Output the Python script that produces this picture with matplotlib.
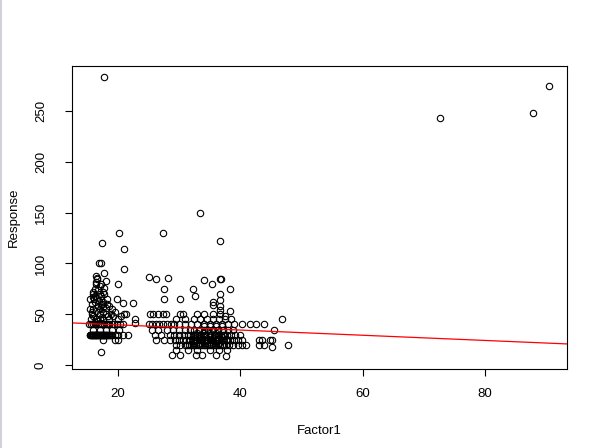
import matplotlib
matplotlib.use("Agg")
import matplotlib.pyplot as plt
from matplotlib.lines import Line2D

plt.rcParams['font.family'] = ['Liberation Sans', 'DejaVu Sans']

# ---- data ----
# cluster around Factor1 15-23
f1_a = [15.4, 15.6, 15.8, 16.0, 16.2, 16.4, 16.6, 16.8, 17.0, 17.2, 17.4, 17.6, 17.8, 18.0, 18.2, 18.5, 18.8, 19.0, 19.5, 20.05, 20.9, 21.7,
        15.5, 15.7, 15.9, 16.1, 16.3, 16.5, 16.7, 16.9, 17.1, 17.3, 17.5, 17.7, 17.9, 18.1, 18.35, 18.65,
        15.3, 15.6, 15.9, 16.2, 16.5, 16.8, 17.1, 17.4, 17.7, 18.0, 18.3, 18.6, 19.0, 19.4, 19.8, 20.3, 20.8, 22.8,
        15.6, 15.8, 16.0, 15.7, 16.1, 15.9, 16.3, 16.5, 16.6, 16.4, 16.9, 17.3, 17.8, 18.0, 17.0, 17.5, 17.2, 17.8, 18.2,
        16.2, 16.7, 17.1, 17.6, 18.0, 18.4, 16.0, 16.5, 17.0, 17.5, 18.5, 18.8, 19.2, 19.0, 18.6, 17.4, 16.9, 16.3, 17.0,
        17.6, 18.1, 15.5, 15.5, 16.0, 16.8, 17.3, 17.8, 18.3, 19.5, 20.0, 20.5, 21.0, 16.5, 16.6,
        15.8, 16.4, 17.0, 17.6, 16.2, 16.8, 17.4, 15.9, 16.6, 17.2,
        16.0, 17.0, 18.0, 19.0, 20.2, 17.5, 19.6, 20.0,
        17.4, 20.2, 21.0, 21.0, 19.95, 19.8, 20.9, 22.4, 21.4, 22.8, 17.3, 17.8]
resp_a = [30, 30, 30, 30, 30, 30, 30, 30, 30, 30, 30, 30, 30, 30, 30, 30, 30, 30, 30, 30, 30, 30,
          30, 30, 30, 30, 30, 30, 30, 30, 30, 30, 30, 30, 30, 30, 30, 30,
          40, 40, 40, 40, 40, 40, 40, 40, 40, 40, 40, 40, 40, 40, 40, 40, 40, 41,
          45, 50, 55, 60, 65, 70, 75, 80, 85, 88, 100, 100, 91, 83, 78, 72, 68, 70, 65,
          62, 58, 55, 52, 50, 48, 48, 45, 45, 44, 45, 50, 48, 55, 58, 60, 63, 68, 70,
          62, 56, 55, 65, 72, 74, 80, 76, 60, 52, 45, 48, 50, 82, 86,
          52, 53, 50, 57, 42, 43, 47, 67, 66, 59,
          35, 35, 35, 35, 35, 25, 25, 25,
          120, 130, 114, 95, 80, 65, 61, 61, 50, 45, 13, 284]

# cluster around Factor1 25-48
f1_b = [29.5, 30.2, 31.0, 31.6, 32.2, 32.8, 33.4, 34.0, 34.6, 35.2, 35.8, 36.4, 37.0, 37.6, 38.2, 38.8, 39.6, 40.3, 40.9, 43.1, 43.9, 47.8,
        26.2, 27.5, 28.5, 29.3, 30.0, 30.6, 31.2, 31.8, 32.4, 33.0, 33.6, 34.2, 34.8, 35.4, 36.0, 36.6, 37.2, 37.8, 38.4, 39.0, 39.6, 40.3, 43.1, 43.5, 44.8, 45.2,
        26.0, 27.0, 28.5, 29.2, 30.0, 30.8, 31.5, 32.2, 32.9, 33.6, 34.3, 35.0, 35.7, 36.4, 37.1, 37.8, 38.5, 39.2, 39.9,
        25.5, 26.6, 28.0, 29.0, 30.0, 31.0, 31.8, 32.5, 33.2, 34.0, 34.8, 35.6, 36.4, 37.2, 38.0, 38.8, 45.5,
        25.1, 25.6, 26.2, 26.8, 27.4, 28.0, 28.6, 29.2, 30.0, 31.0, 32.0, 33.0, 34.0, 35.0, 36.0, 37.0, 38.0, 39.0, 40.3, 41.6, 42.5, 43.9,
        29.5, 31.0, 32.5, 33.5, 34.5, 35.5, 36.5, 37.5, 38.5, 46.8,
        25.3, 25.8, 26.6, 27.4, 27.9, 30.1, 30.6, 33.0, 34.0, 35.5, 36.7,
        29.5, 31.5, 33.0, 35.0, 36.5, 37.8, 45.2,
        28.8, 30.1, 32.8, 33.7, 36.1, 37.7,
        32.5, 33.5, 34.5, 35.5, 36.5, 33.0, 34.0, 35.0, 36.0, 37.0, 33.0, 34.0, 35.0, 36.0, 34.0, 35.0, 36.0, 37.0,
        31.3, 31.9, 32.5, 33.1, 33.7, 34.3, 34.9, 35.5, 36.1, 36.7, 37.3,
        31.6, 32.2, 32.8, 33.4, 34.0, 34.6, 35.2, 35.8, 36.4, 37.0, 37.6,
        31.8, 32.6, 33.4, 34.2, 35.0, 35.8, 36.6, 37.4,
        25.1, 26.3, 28.2, 27.4, 27.5, 27.6, 30.1, 32.2, 32.6, 33.4, 34.1, 35.4, 36.7, 36.9, 38.3, 36.7,
        36.7, 35.5, 35.5, 36.7, 36.7, 36.7, 38.3, 37.5]
resp_b = [20, 20, 20, 20, 20, 20, 20, 20, 20, 20, 20, 20, 20, 20, 20, 20, 20, 20, 20, 20, 20, 20,
          25, 25, 25, 25, 25, 25, 25, 25, 25, 25, 25, 25, 25, 25, 25, 25, 25, 25, 25, 25, 25, 25, 25, 25, 25, 25,
          30, 30, 30, 30, 30, 30, 30, 30, 30, 30, 30, 30, 30, 30, 30, 30, 30, 30, 30,
          35, 35, 35, 35, 35, 35, 35, 35, 35, 35, 35, 35, 35, 35, 35, 35, 35,
          40, 40, 40, 40, 40, 40, 40, 40, 40, 40, 40, 40, 40, 40, 40, 40, 40, 40, 40, 40, 40, 40,
          45, 45, 45, 45, 45, 45, 45, 45, 45, 45,
          50, 50, 50, 50, 50, 50, 50, 50, 50, 50, 50,
          15, 15, 15, 15, 15, 15, 18,
          10, 10, 10, 10, 10, 9,
          22, 22, 22, 22, 22, 28, 28, 28, 28, 28, 32, 32, 32, 32, 38, 38, 38, 38,
          20, 20, 20, 20, 20, 20, 20, 20, 20, 20, 20,
          25, 25, 25, 25, 25, 25, 25, 25, 25, 25, 25,
          30, 30, 30, 30, 30, 30, 30, 30,
          87, 85, 86, 130, 75, 65, 65, 75, 68, 150, 84, 80, 85, 85, 75, 122,
          70, 62, 59, 64, 58, 54, 53, 48]

# far outliers
f1_c = [72.7, 87.9, 90.4]
resp_c = [243, 248, 275]

# fitted line (abline) coefficients
fit_intercept = 44.7
fit_slope = -0.256

x_ticks = [20, 40, 60, 80]
y_ticks = [0, 50, 100, 150, 200, 250]

# ---- plot ----
fig = plt.figure(figsize=(6.0, 4.48), dpi=100)
ax = fig.add_axes([72/600, 1-369/448, (567-72)/600, (369-66)/448])

xs = f1_a + f1_b + f1_c
ys = resp_a + resp_b + resp_c
ax.plot(xs, ys, linestyle='none', marker='o', markersize=4.6,
        markerfacecolor='none', markeredgecolor='black', markeredgewidth=0.8)
ax.axline((0, fit_intercept), slope=fit_slope, color='red', linewidth=0.9)

ax.set_xlim(12.5, 93.4)
ax.set_ylim(-3.9, 294.5)
ax.set_xticks(x_ticks)
ax.set_yticks(y_ticks)
ax.tick_params(direction='out', length=5, width=0.8, labelsize=9.5, colors='black')
ax.tick_params(axis='x', pad=9)
ax.tick_params(axis='y', pad=13)
for lab in ax.get_yticklabels():
    lab.set_rotation(90)
    lab.set_va('center')
for sp in ax.spines.values():
    sp.set_linewidth(0.8)
    sp.set_color('black')

fig.text(0.5325, 1-431/448, 'Factor1', ha='center', va='center', fontsize=9.5)
fig.text(14/600, 1-217/448, 'Response', ha='center', va='center', rotation=90, fontsize=9.5)

# thin gray screenshot border on the left edge
fig.add_artist(Line2D([0.0015, 0.0015], [0, 1], transform=fig.transFigure, color='#c8c8d0', linewidth=1.2))

fig.savefig('out.png', dpi=100)
